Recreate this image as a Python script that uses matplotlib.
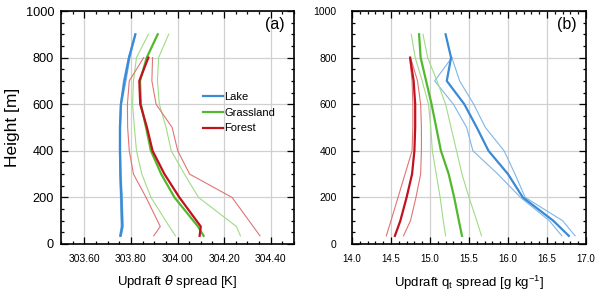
import numpy as np
import matplotlib.pyplot as plt
from matplotlib.ticker import MultipleLocator, FormatStrFormatter

plt.rcParams['font.family'] = ['Liberation Sans', 'DejaVu Sans']

# heights [m]
z_a = [35, 75, 200, 300, 400, 500, 600, 700, 800, 900]
z_b = [35, 100, 200, 300, 400, 500, 600, 700, 800, 900]

# (a) updraft theta spread [K]
lake_a = [303.755, 303.763, 303.759, 303.755, 303.753, 303.753, 303.757, 303.773, 303.792, 303.819]
lake_a_lo = [303.752, 303.758, 303.755, 303.752, 303.751, 303.751, 303.755, 303.768, 303.789, 303.818]
lake_a_hi = [303.759, 303.767, 303.763, 303.758, 303.756, 303.756, 303.760, 303.779, 303.796, 303.821]
grass_a = [304.112, 304.088, 303.987, 303.930, 303.886, 303.865, 303.843, 303.839, 303.868, 303.915]
grass_a_lo = [303.991, 303.965, 303.886, 303.847, 303.824, 303.815, 303.807, 303.811, 303.824, 303.875]
grass_a_hi = [304.270, 304.253, 304.090, 304.030, 303.973, 303.951, 303.922, 303.914, 303.919, 303.962]
forest_a = [304.095, 304.100, 304.008, 303.944, 303.893, 303.869, 303.840, 303.836, 303.875, np.nan]
forest_a_lo = [303.898, 303.926, 303.865, 303.811, 303.793, 303.786, 303.785, 303.793, 303.855, np.nan]
forest_a_hi = [304.354, 304.325, 304.234, 304.052, 304.001, 303.977, 303.908, 303.890, 303.893, np.nan]

# (b) updraft qt spread [g/kg]
lake_b = [16.78, 16.58, 16.19, 16.00, 15.75, 15.60, 15.44, 15.215, 15.27, 15.20]
lake_b_lo = [16.69, 16.53, 16.16, 15.87, 15.55, 15.47, 15.30, 15.06, 15.28, np.nan]
lake_b_hi = [16.86, 16.70, 16.22, 16.09, 15.95, 15.71, 15.56, 15.38, 15.28, np.nan]
grass_b = [15.41, 15.37, 15.31, 15.24, 15.14, 15.08, 15.02, 14.95, 14.88, 14.86]
grass_b_lo = [15.20, 15.17, 15.13, 15.08, 15.03, 15.01, 14.98, 14.90, 14.81, 14.76]
grass_b_hi = [15.66, 15.60, 15.50, 15.41, 15.34, 15.27, 15.20, 15.09, 14.97, 14.91]
forest_b = [14.55, 14.62, 14.70, 14.77, 14.80, 14.81, 14.81, 14.79, 14.745, np.nan]
forest_b_lo = [14.44, 14.50, 14.59, 14.68, 14.77, 14.78, 14.78, 14.77, 14.74, np.nan]
forest_b_hi = [14.66, 14.75, 14.82, 14.88, 14.89, 14.89, 14.88, 14.84, 14.75, np.nan]

c_lake, c_lake_l = '#3a8ad6', '#7fb6e8'
c_grass, c_grass_l = '#52b82e', '#9fdc86'
c_forest, c_forest_l = '#c0121f', '#e07474'

fig = plt.figure(figsize=(6, 2.93), dpi=100)
ax1 = fig.add_axes([61/600, 1-244/293, 233/600, 233/293])
ax2 = fig.add_axes([352/600, 1-244/293, 234/600, 233/293])


def draw(ax, z, sets):
    for mean, lo, hi, c, cl, lab in sets:
        ax.plot(lo, z, color=cl, lw=0.8)
        ax.plot(hi, z, color=cl, lw=0.8)
        ax.plot(mean, z, color=c, lw=1.6, label=lab)


draw(ax1, z_a, [
    (lake_a, lake_a_lo, lake_a_hi, c_lake, c_lake_l, 'Lake'),
    (grass_a, grass_a_lo, grass_a_hi, c_grass, c_grass_l, 'Grassland'),
    (forest_a, forest_a_lo, forest_a_hi, c_forest, c_forest_l, 'Forest'),
])
draw(ax2, z_b, [
    (lake_b, lake_b_lo, lake_b_hi, c_lake, c_lake_l, 'Lake'),
    (grass_b, grass_b_lo, grass_b_hi, c_grass, c_grass_l, 'Grassland'),
    (forest_b, forest_b_lo, forest_b_hi, c_forest, c_forest_l, 'Forest'),
])

ax1.set_xlim(303.5, 304.5)
ax1.xaxis.set_major_locator(MultipleLocator(0.2))
ax1.xaxis.set_minor_locator(MultipleLocator(0.05))
ax1.xaxis.set_major_formatter(FormatStrFormatter('%.2f'))
ax2.set_xlim(14.0, 17.0)
ax2.xaxis.set_major_locator(MultipleLocator(0.5))
ax2.xaxis.set_minor_locator(MultipleLocator(0.1))
ax2.xaxis.set_major_formatter(FormatStrFormatter('%.1f'))

for ax, tag in [(ax1, '(a)'), (ax2, '(b)')]:
    ax.set_ylim(0, 1000)
    ax.yaxis.set_major_locator(MultipleLocator(200))
    ax.yaxis.set_minor_locator(MultipleLocator(50))
    ax.grid(True, which='major', color='#d0d0d0', lw=0.9)
    ax.set_axisbelow(True)
    ax.tick_params(which='both', direction='in', top=True, right=True, width=0.9)
    ax.tick_params(which='major', length=5)
    ax.tick_params(which='minor', length=2.5)
    for s in ax.spines.values():
        s.set_linewidth(1.2)
    ax.text(0.917, 0.94, tag, transform=ax.transAxes, ha='center', va='center', fontsize=11.5)

ax1.tick_params(axis='x', labelsize=7.5, pad=7)
ax1.tick_params(axis='y', labelsize=9.2, pad=5)
ax2.tick_params(axis='x', labelsize=7, pad=7)
ax2.tick_params(axis='y', labelsize=7.5, pad=11)

ax1.set_ylabel('Height [m]', fontsize=12.5, labelpad=4)
ax1.set_xlabel(r'Updraft $\theta$ spread [K]', fontsize=9.5, labelpad=7)
ax2.set_xlabel(r'Updraft q$_\mathregular{t}$ spread [g kg$^\mathregular{-1}$]', fontsize=9.5, labelpad=7)

ax1.legend(loc='upper left', bbox_to_anchor=(0.59, 0.67), frameon=False,
           fontsize=8, handlelength=1.8, handletextpad=0.1, labelspacing=0.5,
           borderaxespad=0)

fig.savefig('out.png', dpi=100)
